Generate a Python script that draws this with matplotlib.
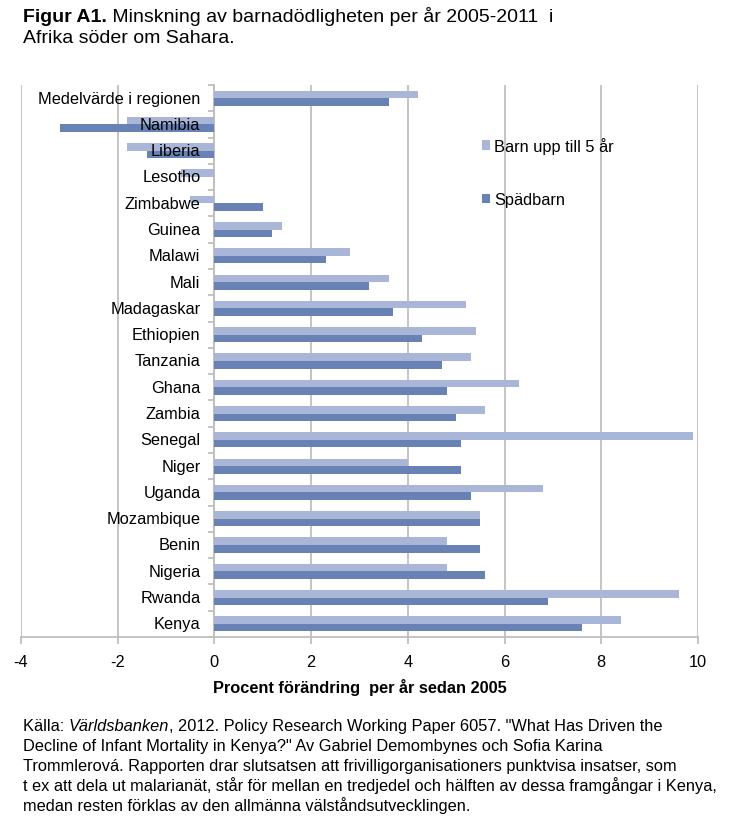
import matplotlib
matplotlib.use("Agg")
import matplotlib.pyplot as plt
from matplotlib.patches import Patch
import matplotlib.transforms as mtransforms
import numpy as np

plt.rcParams['font.family'] = ['Liberation Sans', 'DejaVu Sans']

categories = ["Medelvärde i regionen", "Namibia", "Liberia", "Lesotho", "Zimbabwe",
              "Guinea", "Malawi", "Mali", "Madagaskar", "Ethiopien", "Tanzania",
              "Ghana", "Zambia", "Senegal", "Niger", "Uganda", "Mozambique",
              "Benin", "Nigeria", "Rwanda", "Kenya"]
under5 = [4.2, -1.8, -1.8, -0.7, -0.5, 1.4, 2.8, 3.6, 5.2, 5.4, 5.3,
          6.3, 5.6, 9.9, 4.0, 6.8, 5.5, 4.8, 4.8, 9.6, 8.4]
infant = [3.6, -3.2, -1.4, 0.0, 1.0, 1.2, 2.3, 3.2, 3.7, 4.3, 4.7,
          4.8, 5.0, 5.1, 5.1, 5.3, 5.5, 5.5, 5.6, 6.9, 7.6]
series_names = ["Barn upp till 5 år", "Spädbarn"]
xticks = [-4, -2, 0, 2, 4, 6, 8, 10]

LIGHT = "#AAB6D8"
DARK = "#6882B6"
GRID = "#BFBFBF"
FS = 11.8

W, H = 736, 828
fig = plt.figure(figsize=(W / 100, H / 100), dpi=100)
ax = fig.add_axes([21 / W, 1 - 638 / H, (698 - 21) / W, (638 - 86) / H])

y = np.arange(len(categories))
bh = 0.29
ax.barh(y - 0.145, under5, height=bh, color=LIGHT, zorder=3, label=series_names[0])
ax.barh(y + 0.145, infant, height=bh, color=DARK, zorder=3, label=series_names[1])

ax.set_xlim(-4, 10)
ax.set_ylim(len(categories) - 0.5, -0.5)
ax.set_xticks(xticks)
ax.set_xticklabels([str(t) for t in xticks], fontsize=FS)
ax.grid(axis='x', color=GRID, linewidth=1.3, zorder=0)
ax.set_axisbelow(True)

for s in ['top', 'right']:
    ax.spines[s].set_visible(False)
ax.spines['left'].set_position(('data', 0))
ax.spines['left'].set_color(GRID)
ax.spines['left'].set_linewidth(1.3)
ax.spines['bottom'].set_color(GRID)
ax.spines['bottom'].set_linewidth(1.3)
ax.set_yticks(np.arange(-0.5, len(categories), 1.0))
ax.set_yticklabels([])
ax.tick_params(axis='y', direction='out', length=4, color=GRID, width=1.3)
ax.tick_params(axis='x', direction='out', length=5, color=GRID, width=1.3, pad=7)

trans = mtransforms.offset_copy(ax.transData, fig=fig, x=-14, y=0, units='dots')
for yi, name in zip(y, categories):
    ax.text(0, yi, name, transform=trans, ha='right', va='center',
            fontsize=FS, zorder=5)

ax.set_xlabel("Procent förändring  per år sedan 2005", fontsize=FS,
              fontweight='bold', labelpad=7)

handles = [Patch(facecolor=LIGHT, edgecolor='none'), Patch(facecolor=DARK, edgecolor='none')]
fig.legend(handles, series_names, loc='upper left', bbox_to_anchor=(482 / W, 1 - 138 / H),
           bbox_transform=fig.transFigure, frameon=False, fontsize=FS,
           handlelength=0.5, handleheight=0.5, handletextpad=0.25,
           labelspacing=2.35, borderpad=0, borderaxespad=0)

# Title
renderer = fig.canvas.get_renderer()
TFS = 14
t1 = fig.text(23 / W, 1 - 22 / H, "Figur A1.", fontsize=TFS, fontweight='bold', va='baseline')
bb = t1.get_window_extent(renderer)
fig.text(bb.x1 / W, 1 - 22 / H, " Minskning av barnadödligheten per år 2005-2011  i",
         fontsize=TFS, va='baseline')
fig.text(23 / W, 1 - 43 / H, "Afrika söder om Sahara.", fontsize=TFS, va='baseline')

# Footer
fs = 11.8
base = 731.5
a = fig.text(23 / W, 1 - base / H, "Källa: ", fontsize=fs, va='baseline')
bb = a.get_window_extent(renderer)
b = fig.text(bb.x1 / W, 1 - base / H, "Världsbanken", fontsize=fs, style='italic', va='baseline')
bb = b.get_window_extent(renderer)
fig.text(bb.x1 / W, 1 - base / H,
         ', 2012. Policy Research Working Paper 6057. "What Has Driven the',
         fontsize=fs, va='baseline')
lines = ['Decline of Infant Mortality in Kenya?" Av Gabriel Demombynes och Sofia Karina',
         'Trommlerová. Rapporten drar slutsatsen att frivilligorganisationers punktvisa insatser, som',
         't ex att dela ut malarianät, står för mellan en tredjedel och hälften av dessa framgångar i Kenya,',
         'medan resten förklas av den allmänna välståndsutvecklingen.']
for i, ln in enumerate(lines):
    fig.text(23 / W, 1 - (base + 20 * (i + 1)) / H, ln, fontsize=fs, va='baseline')

fig.savefig("out.png", dpi=100)
